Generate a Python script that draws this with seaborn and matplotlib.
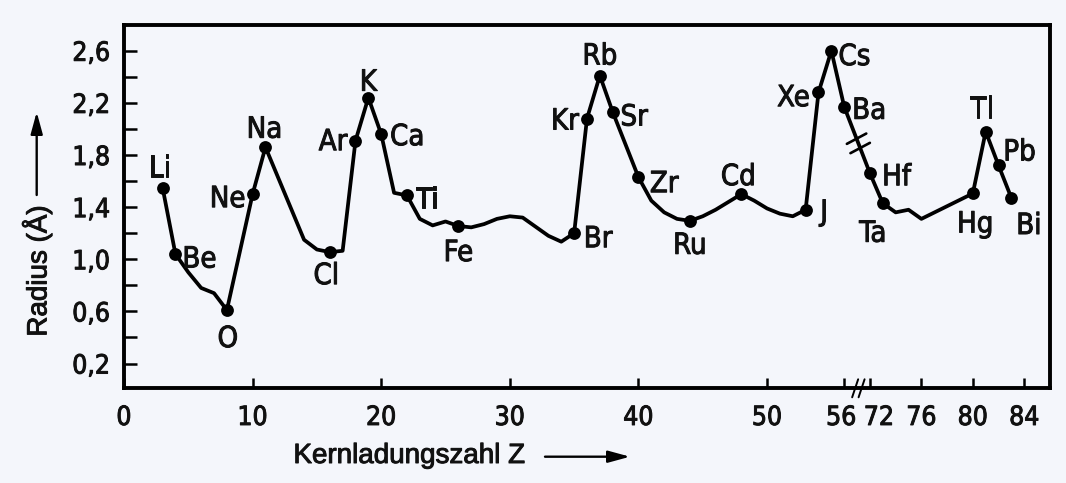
import numpy as np
import pandas as pd
import matplotlib
matplotlib.use("Agg")
import matplotlib.pyplot as plt
import matplotlib.patheffects as pe
import seaborn as sns
from matplotlib import font_manager as fm
from matplotlib.transforms import ScaledTranslation
from matplotlib.lines import Line2D

# ---------------- data ----------------
Z = [3, 4, 5, 6, 7, 8, 10, 11, 14, 15, 16, 17, 18, 19, 20, 21, 22, 23, 24, 25,
     26, 27, 28, 29, 30, 31, 32, 33, 34, 35, 36, 37, 38, 40, 41, 42, 43, 44, 45,
     46, 47, 48, 49, 50, 51, 52, 53, 54, 55, 56, 72, 73, 74, 75, 76, 80, 81, 82, 83]
radius = [1.55, 1.04, 0.90, 0.78, 0.74, 0.61, 1.50, 1.86, 1.15, 1.075, 1.055, 1.065,
          1.91, 2.24, 1.96, 1.51, 1.49, 1.31, 1.26, 1.29, 1.255, 1.245, 1.27, 1.31,
          1.33, 1.32, 1.25, 1.18, 1.135, 1.20, 2.08, 2.41, 2.13, 1.63, 1.45, 1.36,
          1.31, 1.295, 1.33, 1.38, 1.44, 1.50, 1.45, 1.39, 1.35, 1.33, 1.38, 2.28,
          2.60, 2.17, 1.66, 1.43, 1.36, 1.38, 1.31, 1.505, 1.98, 1.72, 1.47]

elements = ['Li', 'Be', 'O', 'Ne', 'Na', 'Cl', 'Ar', 'K', 'Ca', 'Ti', 'Fe', 'Br', 'Kr',
            'Rb', 'Sr', 'Zr', 'Ru', 'Cd', 'J', 'Xe', 'Cs', 'Ba', 'Hf', 'Ta', 'Hg', 'Tl',
            'Pb', 'Bi']
element_Z = [3, 4, 8, 10, 11, 16, 18, 19, 20, 22, 26, 35, 36, 37, 38, 40, 44, 48, 53,
             54, 55, 56, 72, 73, 80, 81, 82, 83]

xtick_values = [0, 10, 20, 30, 40, 50, 56, 72, 76, 80, 84]
ytick_values = [0.2, 0.4, 0.6, 0.8, 1.0, 1.2, 1.4, 1.6, 1.8, 2.0, 2.2, 2.4, 2.6]
ytick_labels = ['0,2', '', '0,6', '', '1,0', '', '1,4', '', '1,8', '', '2,2', '', '2,6']

# label offsets in pixels (dx, dy) relative to each dot -- styling only
label_offsets = {
    'Li': (-3, 22), 'Be': (24, -2.5), 'O': (1, -26), 'Ne': (-25, -2), 'Na': (-1, 20.5),
    'Cl': (-3.5, -21), 'Ar': (-22.5, 1.5), 'K': (0, 18), 'Ca': (26, 0), 'Ti': (20, -2),
    'Fe': (0, -24), 'Br': (24, -3), 'Kr': (-22, 0), 'Rb': (0, 22), 'Sr': (21.5, -2.5),
    'Zr': (25.7, -4), 'Ru': (0, -22), 'Cd': (-3, 20), 'J': (18.5, 0), 'Xe': (-25, -2.7),
    'Cs': (23, -3.3), 'Ba': (25, -1), 'Hf': (26.7, -1), 'Ta': (-10, -27.5),
    'Hg': (2.5, -28), 'Tl': (-4, 25), 'Pb': (21, 16), 'Bi': (17.5, -25),
}

# ---------------- axis break: Z > 56 is shifted to close the gap ----------------
GAP = 14  # 72 is drawn at 58


def zpos(z):
    z = np.asarray(z, dtype=float)
    return np.where(z > 56, z - GAP, z)


df = pd.DataFrame({'Z': Z, 'radius': radius})
df['x'] = zpos(df['Z'])
lookup = dict(zip(Z, radius))
dm = pd.DataFrame({'el': elements, 'Z': element_Z})
dm['radius'] = [lookup[z] for z in element_Z]
dm['x'] = zpos(dm['Z'])

# ---------------- style ----------------
sns.set_theme(style='white')
fonts = fm.fontManager.ttflist
names = {f.name for f in fonts}
NARROW_KW = dict(fontfamily='Liberation Sans')
if 'Liberation Sans Narrow' in names:
    NARROW_KW = dict(fontfamily='Liberation Sans Narrow')
elif any(f.name == 'DejaVu Sans' and f.stretch == 'condensed' for f in fonts):
    NARROW_KW = dict(fontfamily='DejaVu Sans', fontstretch='condensed')
plt.rcParams['font.family'] = ['Liberation Sans', 'DejaVu Sans']
BG = '#f4f6fb'
plt.rcParams['axes.facecolor'] = BG
plt.rcParams['figure.facecolor'] = BG
THICK = [pe.withStroke(linewidth=0.7, foreground='#111111')]

fig = plt.figure(figsize=(10.66, 4.83), dpi=100)
ax = fig.add_axes([0.11632, 0.19607, 0.86867, 0.75280])
ax.set_facecolor(BG)

sns.lineplot(data=df, x='x', y='radius', sort=False, color='black', linewidth=2.7,
             ax=ax, legend=False)
sns.scatterplot(data=dm, x='x', y='radius', color='black', s=85, edgecolor='black',
                linewidth=0, ax=ax, legend=False, zorder=5)

ax.set_xlim(0, 72.0)
ax.set_ylim(0.01, 2.80)
ax.set_xlabel('')
ax.set_ylabel('')

for s in ax.spines.values():
    s.set_color('black')
    s.set_linewidth(2.8)
    s.set_visible(True)

ax.set_xticks(zpos(xtick_values))
ax.set_xticklabels([str(v) for v in xtick_values], fontsize=19, **NARROW_KW)
ax.set_yticks(ytick_values)
ax.set_yticklabels(ytick_labels, fontsize=19, **NARROW_KW)
ax.tick_params(axis='y', direction='in', length=9, width=1.8, color='black', pad=10,
               left=True, labelcolor='#111111')
ax.tick_params(axis='x', direction='in', length=7, width=1.8, color='black', pad=12,
               bottom=True, labelcolor='#111111')
for lab in ax.get_xticklabels() + ax.get_yticklabels():
    lab.set_path_effects(THICK)

fig.canvas.draw()
for lab in ax.get_xticklabels():
    if lab.get_text() == '72':
        lab.set_transform(lab.get_transform() + ScaledTranslation(9 / 100, 0, fig.dpi_scale_trans))
    if lab.get_text() == '56':
        lab.set_transform(lab.get_transform() + ScaledTranslation(-3 / 100, 0, fig.dpi_scale_trans))

# element labels
for _, r in dm.iterrows():
    dx, dy = label_offsets[r['el']]
    ax.annotate(r['el'], (r['x'], r['radius']), xytext=(dx, dy - 3),
                textcoords='offset pixels', ha='center', va='center',
                fontsize=21, color='#111111', zorder=6, path_effects=THICK,
                **NARROW_KW)

# break mark on the curve between Ba (56) and Hf (72)
p1 = ax.transData.transform((zpos(56), lookup[56]))
p2 = ax.transData.transform((zpos(72), lookup[72]))
d = np.array([np.cos(np.radians(28)), np.sin(np.radians(28))]) * 11
for t in (0.48, 0.62):
    c = p1 + (p2 - p1) * t
    fig.add_artist(Line2D([c[0] - d[0], c[0] + d[0]], [c[1] - d[1], c[1] + d[1]],
                          transform=None, color='black', lw=1.9, zorder=7))

# break mark on the x axis
for zb in (56.85, 57.35):
    c = ax.transData.transform((zb, 0.01))
    fig.add_artist(Line2D([c[0] - 3, c[0] + 3], [c[1] - 9, c[1] + 9],
                          transform=None, color='black', lw=1.4, zorder=7))

# axis titles with arrows
W, H = 1066, 483
fig.text(409 / W, 1 - 463 / H, 'Kernladungszahl Z', ha='center', va='baseline',
         fontsize=20, color='#111111', path_effects=THICK)
ax.annotate('', xy=(630 / W, 1 - 456.7 / H), xytext=(545 / W, 1 - 456.7 / H),
            xycoords='figure fraction', textcoords='figure fraction',
            arrowprops=dict(arrowstyle='-|>,head_length=1.1,head_width=0.3',
                            color='black', lw=1.7, shrinkA=0, shrinkB=0))
fig.text(37 / W, 1 - 271 / H, 'Radius (Å)', ha='center', va='center', rotation=90,
         fontsize=20, color='#111111', path_effects=THICK)
ax.annotate('', xy=(36.7 / W, 1 - 112 / H), xytext=(36.7 / W, 1 - 195 / H),
            xycoords='figure fraction', textcoords='figure fraction',
            arrowprops=dict(arrowstyle='-|>,head_length=1.1,head_width=0.3',
                            color='black', lw=1.7, shrinkA=0, shrinkB=0))

fig.savefig('out.png', dpi=100, facecolor=BG)
